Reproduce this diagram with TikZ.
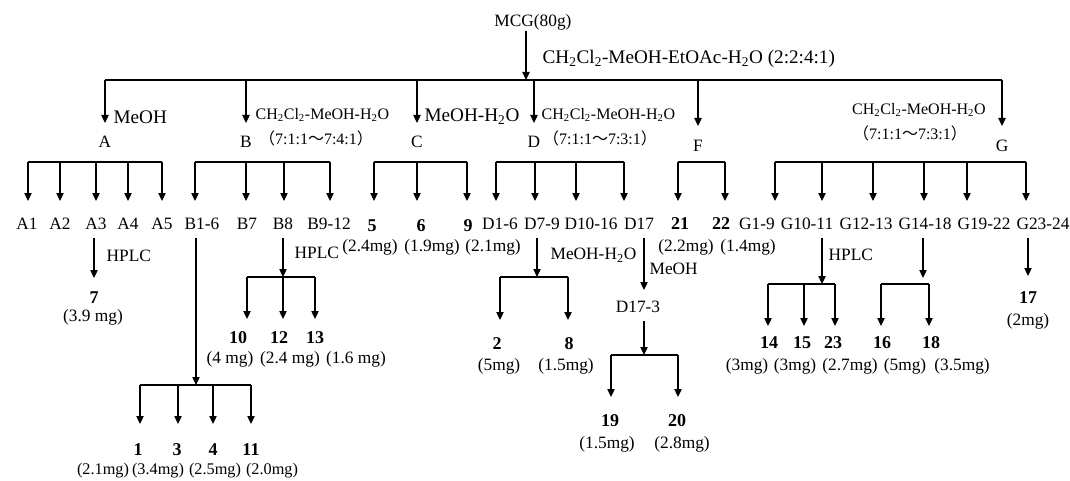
\documentclass[tikz,border=0pt]{standalone}
\usepackage{fontspec}
\setmainfont{Liberation Serif}
\newfontfamily\cjk{Noto Sans CJK SC}
\usepackage{tikz}
\usetikzlibrary{arrows.meta}
\tikzset{>={Triangle[length=6pt,width=5.5pt]}}
\newcommand\subs[1]{\textsubscript{#1}}
\newcommand\lp{{\cjk （}}
\newcommand\rp{{\cjk ）}}
\newcommand\wave{{\cjk ～}}
\tikzset{
	lbl/.style={inner sep=1pt, font=\fontsize{13}{15}\selectfont},
	big/.style={inner sep=1pt, font=\fontsize{14.4}{16}\selectfont},
	sml/.style={inner sep=1pt, font=\fontsize{12}{14}\selectfont},
	cmp/.style={inner sep=1pt, font=\fontsize{13.5}{15}\selectfont\bfseries},
	arr/.style={->, line width=0.9pt},
	drop/.style={arr, shorten <=5pt},
	bar/.style={line width=0.9pt}
}

\begin{document}
\begin{tikzpicture}[x=0.75pt,y=-0.75pt]
		\useasboundingbox (0,0) rectangle (1070,481);
		\node[lbl] (mcg) at (533,22) {MCG(80g)};
		\coordinate (bus) at (526,80);
		\draw[arr] (mcg.south -| bus) -- (bus);
		\node[big,anchor=west] (sol) at (541,59) {CH\subs{2}Cl\subs{2}-MeOH-EtOAc-H\subs{2}O (2:2:4:1)};
		\coordinate (busL) at (105,80);
		\coordinate (busR) at (1002,80);
		\draw[bar] (busL) -- (busR);
		\foreach \x/\ty/\ly/\n in {105/123/142/A,246/123/142/B,417/123/142/C,534/123/142/D,698/126/146/F,1002/126/146/G} {
			\node[lbl] (\n) at (\x,\ly) {\n};
			\coordinate (t\n) at (\x,\ty);
			\draw[arr] (t\n |- bus) -- (t\n);
		}
		\node[big,anchor=west] (solA) at (112,117) {MeOH};
		\node[sml,anchor=west] (solB) at (254,115) {CH\subs{2}Cl\subs{2}-MeOH-H\subs{2}O};
		\node[sml] (ratB) at (316,138) {\lp7:1:1\wave7:4:1\rp};
		\node[big,anchor=west] (solC) at (423,117) {MeOH-H\subs{2}O};
		\node[sml,anchor=west] (solD) at (540,115) {CH\subs{2}Cl\subs{2}-MeOH-H\subs{2}O};
		\node[sml] (ratD) at (600,138) {\lp7:1:1\wave7:3:1\rp};
		\node[sml] (solG) at (919,110) {CH\subs{2}Cl\subs{2}-MeOH-H\subs{2}O};
		\node[sml] (ratG) at (910,133) {\lp7:1:1\wave7:3:1\rp};

		% second level
		\coordinate (lev2) at (0,162);
		\foreach \x/\lx/\n/\t in {28/27/a1/A1,60/60/a2/A2,96/96/a3/A3,128/128/a4/A4,162/162/a5/A5,
				195/202/b1/B1-6,246/247/b7/B7,284/283/b8/B8,330/329/b9/B9-12,
				496/500/d1/D1-6,535/542/d7/D7-9,576/591/d10/D10-16,624/639/d17/D17,
				775/757/g1/G1-9,822/807/g10/G10-11,873/866/g12/G12-13,924/925/g14/G14-18,967/984/g19/G19-22,1026/1043/g23/G23-24} {
			\node[lbl] (\n) at (\lx,224) {\t};
			\coordinate (t\n) at (\x,201);
			\draw[arr] (t\n |- lev2) -- (t\n);
		}
		\foreach \x/\lx/\mx/\ly/\n/\t/\m in {374/372/370/226/c5/5/2.4mg,417/421/432/226/c6/6/1.9mg,467/468/493/226/c9/9/2.1mg,
				678/680/686/224/f21/21/2.2mg,725/721/748/224/f22/22/1.4mg} {
			\node[cmp] (\n) at (\lx,\ly) {\t};
			\node[lbl] (m\n) at (\mx,247) {(\m)};
			\coordinate (t\n) at (\x,201);
			\draw[arr] (t\n |- lev2) -- (t\n);
		}
		\draw[bar] (ta1 |- lev2) -- (ta5 |- lev2);
		\draw[bar] (tb1 |- lev2) -- (tb9 |- lev2);
		\draw[bar] (tc5 |- lev2) -- (tc9 |- lev2);
		\draw[bar] (td1 |- lev2) -- (td17 |- lev2);
		\draw[bar] (tf21 |- lev2) -- (tf22 |- lev2);
		\draw[bar] (tg1 |- lev2) -- (tg23 |- lev2);

		% A3
		\coordinate (t7) at (94,278);
		\draw[drop] (a3.south -| t7) -- (t7);
		\node[lbl,anchor=west] (hplcA) at (105,256) {HPLC};
		\node[cmp] (k7) at (94,298) {7};
		\node[lbl] (mk7) at (93,317) {(3.9 mg)};

		% B1-6
		\coordinate (busB1) at (196,385);
		\draw[drop] (b1.south -| busB1) -- (busB1);
		\foreach \x/\lx/\mx/\n/\t/\m in {140/138/103/k1/1/2.1mg,178/177/158/k3/3/3.4mg,213/213/215/k4/4/2.5mg,251/251/272/k11/11/2.0mg} {
			\coordinate (t\n) at (\x,424);
			\draw[arr] (t\n |- busB1) -- (t\n);
			\node[cmp] (\n) at (\lx,450) {\t};
			\node[lbl,font=\fontsize{12.2}{14}\selectfont] (m\n) at (\mx,471) {(\m)};
		}
		\draw[bar] (tk1 |- busB1) -- (tk11 |- busB1);

		% B8
		\coordinate (busB8) at (283,277);
		\draw[drop] (b8.south -| busB8) -- (busB8);
		\node[lbl,anchor=west] (hplcB) at (293,253) {HPLC};
		\foreach \x/\lx/\mx/\n/\t/\m in {247/238/230/k10/10/4 mg,283/279/290/k12/12/2.4 mg,315/315/356/k13/13/1.6 mg} {
			\coordinate (t\n) at (\x,319);
			\draw[arr] (t\n |- busB8) -- (t\n);
			\node[cmp] (\n) at (\lx,338) {\t};
			\node[lbl] (m\n) at (\mx,359) {(\m)};
		}
		\draw[bar] (tk10 |- busB8) -- (tk13 |- busB8);

		% D7-9
		\coordinate (busD7) at (537,277);
		\draw[drop] (d7.south -| busD7) -- (busD7);
		\node[lbl,anchor=west] (solD7) at (549,255) {MeOH-H\subs{2}O};
		\foreach \x/\lx/\mx/\n/\t/\m in {500/497/499/k2/2/5mg,568/569/566/k8/8/1.5mg} {
			\coordinate (t\n) at (\x,320);
			\draw[arr] (t\n |- busD7) -- (t\n);
			\node[cmp] (\n) at (\lx,344) {\t};
			\node[lbl] (m\n) at (\mx,366) {(\m)};
		}
		\draw[bar] (tk2 |- busD7) -- (tk8 |- busD7);

		% D17
		\coordinate (tD173) at (644,290);
		\draw[drop] (d17.south -| tD173) -- (tD173);
		\node[lbl,anchor=west] (solD17) at (648,269) {MeOH};
		\node[lbl] (d173) at (638,307) {D17-3};
		\coordinate (busD17) at (644,355);
		\draw[drop] (d173.south -| busD17) -- (busD17);
		\foreach \x/\lx/\mx/\n/\t/\m in {611/610/607/k19/19/1.5mg,678/677/682/k20/20/2.8mg} {
			\coordinate (t\n) at (\x,397);
			\draw[arr] (t\n |- busD17) -- (t\n);
			\node[cmp] (\n) at (\lx,421) {\t};
			\node[lbl] (m\n) at (\mx,444) {(\m)};
		}
		\draw[bar] (tk19 |- busD17) -- (tk20 |- busD17);

		% G10-11
		\coordinate (busG10) at (822,284);
		\draw[drop] (g10.south -| busG10) -- (busG10);
		\node[lbl,anchor=west] (hplcG) at (827,255) {HPLC};
		\foreach \x/\lx/\mx/\n/\t/\m in {768/769/747/k14/14/3mg,804/802/795/k15/15/3mg,835/833/850/k23/23/2.7mg} {
			\coordinate (t\n) at (\x,326);
			\draw[arr] (t\n |- busG10) -- (t\n);
			\node[cmp] (\n) at (\lx,343) {\t};
			\node[lbl] (m\n) at (\mx,366) {(\m)};
		}
		\draw[bar] (tk14 |- busG10) -- (tk23 |- busG10);

		% G14-18
		\coordinate (tG14) at (923,278);
		\coordinate (busG14) at (923,284);
		\draw[drop] (g14.south -| tG14) -- (tG14);
		\foreach \x/\lx/\mx/\n/\t/\m in {881/882/905/k16/16/5mg,929/931/962/k18/18/3.5mg} {
			\coordinate (t\n) at (\x,326);
			\draw[arr] (t\n |- busG14) -- (t\n);
			\node[cmp] (\n) at (\lx,343) {\t};
			\node[lbl] (m\n) at (\mx,366) {(\m)};
		}
		\draw[bar] (tk16 |- busG14) -- (tk18 |- busG14);

		% G23-24
		\coordinate (t17) at (1028,276);
		\draw[drop] (g23.south -| t17) -- (t17);
		\node[cmp] (k17) at (1028,298) {17};
		\node[lbl] (mk17) at (1028,321) {(2mg)};
	\end{tikzpicture}
\end{document}
